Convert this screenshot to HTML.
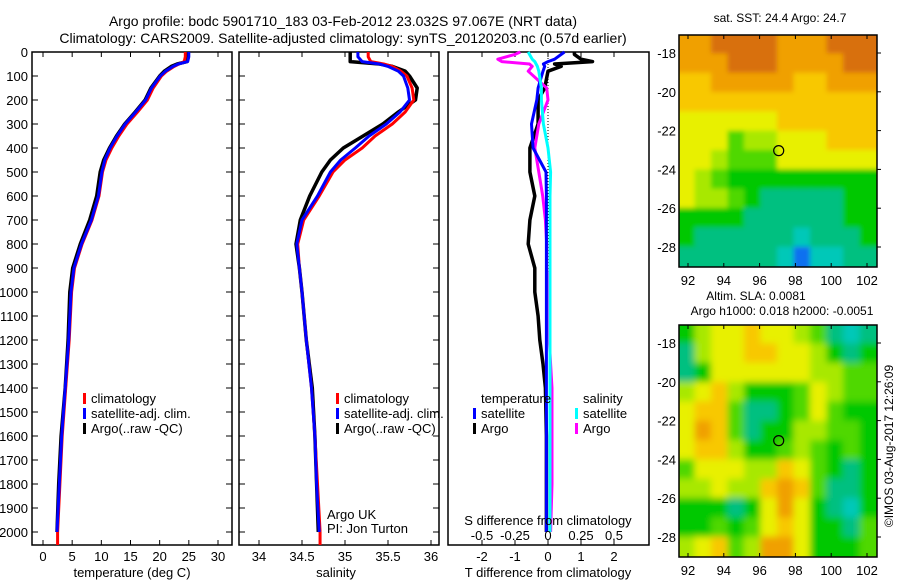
<!DOCTYPE html>
<html><head><meta charset="utf-8"><style>
body{margin:0;background:#fff}
svg{display:block;font-family:"Liberation Sans",sans-serif}
text{fill:#000}
</style></head><body>
<svg id="c" width="900" height="580" viewBox="0 0 900 580" xmlns="http://www.w3.org/2000/svg">
<defs><filter id="blur2" x="-5%" y="-5%" width="110%" height="110%"><feGaussianBlur stdDeviation="3.5"/></filter>
<filter id="blur1" x="-5%" y="-5%" width="110%" height="110%"><feGaussianBlur stdDeviation="2.5"/></filter>
<clipPath id="m1c"><rect x="679" y="35" width="198" height="232"/></clipPath>
<clipPath id="m2c"><rect x="679" y="325" width="198" height="232"/></clipPath></defs>
<text x="343" y="26" font-size="14" text-anchor="middle">Argo profile: bodc 5901710_183 03-Feb-2012 23.032S 97.067E (NRT data)</text>
<text x="343" y="43" font-size="14" text-anchor="middle">Climatology: CARS2009. Satellite-adjusted climatology: synTS_20120203.nc (0.57d earlier)</text>
<g id="g"></g>
</svg>
<script>
// profile data
const depths=[0,20,40,50,60,80,100,150,200,250,300,350,400,450,500,600,700,800,900,1000,1200,1400,1600,1800,2000];
const argoT=[24.9,24.9,24.7,23.0,22,20.8,20.0,18.5,17.5,15.8,14.0,12.6,11.4,10.4,9.8,9.2,8.0,6.4,5.1,4.6,4.3,3.8,3.1,2.7,2.4];
const climT=[24.4,24.4,24.2,23.3,22.5,21.2,20.3,18.9,17.9,16.2,14.4,13.0,11.8,10.8,10.2,9.6,8.4,6.7,5.4,4.9,4.5,3.9,3.3,2.9,2.5];
const satT=[25.0,25.0,24.8,23.2,22.3,21.0,20.1,18.6,17.6,15.9,14.1,12.7,11.5,10.6,10.1,9.5,8.3,6.6,5.3,4.8,4.4,3.8,3.2,2.8,2.4];
const argoS=[35.06,35.06,35.06,35.4,35.55,35.7,35.75,35.84,35.82,35.62,35.44,35.21,34.98,34.83,34.73,34.59,34.48,34.43,34.47,34.5,34.55,34.62,34.65,34.67,34.69];
const climS=[35.27,35.27,35.3,35.45,35.55,35.65,35.72,35.78,35.8,35.7,35.55,35.35,35.2,35.0,34.86,34.7,34.52,34.45,34.47,34.5,34.55,34.61,34.65,34.68,34.71];
const satS=[35.15,35.15,35.2,35.4,35.5,35.62,35.68,35.73,35.75,35.64,35.48,35.28,35.12,34.95,34.83,34.68,34.5,34.44,34.47,34.5,34.55,34.61,34.65,34.67,34.7];
const diffDepths=[0,10,30,40,50,60,80,150,200,300,400,500,600,700,800,900,1000,1100,1200,1300,1400,1600,1800,2000];
const argoTdiff=[0.8,0.8,1.0,1.35,0.2,0.4,0.0,-0.1,-0.3,-0.3,-0.55,-0.55,-0.4,-0.55,-0.6,-0.4,-0.4,-0.3,-0.25,-0.15,-0.08,-0.05,-0.05,-0.05];
const satTdiff=[0.5,0.4,0.2,0.0,-0.14,-0.1,-0.15,-0.3,-0.34,-0.5,-0.45,-0.06,-0.05,-0.05,-0.05,-0.05,-0.05,-0.05,-0.05,-0.05,-0.05,-0.05,-0.05,-0.05];
const argoSdiff=[-0.21,-0.25,-0.38,-0.35,-0.14,-0.12,-0.15,-0.01,0.0,-0.07,-0.1,-0.07,-0.04,-0.02,-0.01,-0.01,0.0,0.0,0.01,0.02,0.03,0.03,0.03,0.02];
const satSdiff=[-0.15,-0.14,-0.12,-0.1,-0.09,-0.08,-0.07,-0.05,-0.05,-0.035,0.0,0.02,0.015,0.015,0.015,0.015,0.015,0.015,0.015,0.015,0.015,0.015,0.015,0.015];
const depthTicks=[0,100,200,300,400,500,600,700,800,900,1000,1100,1200,1300,1400,1500,1600,1700,1800,1900,2000];
const tTicks=[0,5,10,15,20,25,30];
const sTicks=[34,34.5,35,35.5,36];
const tdTicks=[-2,-1,0,1,2];
const sdTicks=[-0.5,-0.25,0,0.25,0.5];
const sdTickLabels=["-0.5","-0.25","0","0.25","0.5"];
const mapLon=[92,94,96,98,100,102];
const mapLat=[-18,-20,-22,-24,-26,-28];
const sstGrid=["889999888999","888999888899","778888877888","777777777777","666666777777","666455666777","665444666666","654333333333","655432222233","333322222233","322222212223","222222101122"];
const slaGrid=["356676654212","256677665323","236666665544","567533346544","677422346433","687423355443","677533454343","466655764323","556557874223","333236863213","334346763324","567458863334"];
const floatLon=97.067, floatLat=-23.032;

const NS="http://www.w3.org/2000/svg";
const G=document.getElementById('g');
function mk(tag,attrs,parent){const e=document.createElementNS(NS,tag);for(const k in attrs)e.setAttribute(k,attrs[k]);(parent||G).appendChild(e);return e;}
function txt(x,y,s,size,anchor,parent){const t=mk('text',{x:x,y:y,'font-size':size||13,'text-anchor':anchor||'middle'},parent);t.textContent=s;return t;}
const yD=d=>52+d*0.24;
const xT=v=>43+v*5.833;
const xS=v=>259+(v-34)*86;
const xDT=v=>548+v*33;
const xDS=v=>548+v*132;
const TOP=52,BOT=545;

function frame(l,r,name){
  const f=mk('rect',{x:l,y:TOP,width:r-l,height:BOT-TOP,fill:'none',stroke:'#000','stroke-width':1.5});
  
  
  depthTicks.forEach(d=>{mk('line',{x1:l,x2:l+6,y1:yD(d),y2:yD(d),stroke:'#000'});mk('line',{x1:r,x2:r-6,y1:yD(d),y2:yD(d),stroke:'#000'});});
}
function line(xs,ds,xf,color,w,name){
  const p=xs.map((v,i)=>xf(v).toFixed(1)+','+yD(ds[i]).toFixed(1)).join(' ');
  const e=mk('polyline',{points:p,fill:'none',stroke:color,'stroke-width':w||3,'stroke-linejoin':'round'});
  
  
}
// panel 1
frame(32,232,'temperature-panel');
const yl=mk('g',{});


depthTicks.forEach(d=>txt(28,yD(d)+5,String(d),13,'end',yl));
tTicks.forEach(v=>{mk('line',{x1:xT(v),x2:xT(v),y1:TOP,y2:TOP+5,stroke:'#000'});mk('line',{x1:xT(v),x2:xT(v),y1:BOT,y2:BOT-5,stroke:'#000'});txt(xT(v),561,String(v));});
txt(132,577,'temperature (deg C)');
line(argoT,depths,xT,'#000',3.5,'temperature-argo-line');
line(climT,depths,xT,'#f00',3,'temperature-climatology-line');
line(satT,depths,xT,'#00f',3,'temperature-satellite-line');
mk('line',{x1:xT(2.5),x2:xT(2.5),y1:yD(2000),y2:BOT,stroke:'#f00','stroke-width':3});
function legend(x,y,items,name){const g=mk('g',{});
 items.forEach((it,i)=>{mk('rect',{x:x,y:y+i*15-10,width:3,height:11,fill:it[1]},g);txt(x+8,y+i*15,it[0],13,'start',g);});}
legend(83,403,[['climatology','#f00'],['satellite-adj. clim.','#00f'],['Argo(..raw -QC)','#000']],'temperature-legend');
// panel 2
frame(239,439,'salinity-panel');
sTicks.forEach(v=>{mk('line',{x1:xS(v),x2:xS(v),y1:TOP,y2:TOP+5,stroke:'#000'});mk('line',{x1:xS(v),x2:xS(v),y1:BOT,y2:BOT-5,stroke:'#000'});txt(xS(v),561,String(v));});
txt(336,577,'salinity');
line(argoS,depths,xS,'#000',3.5,'salinity-argo-line');
line(climS,depths,xS,'#f00',3,'salinity-climatology-line');
line(satS,depths,xS,'#00f',3,'salinity-satellite-line');
mk('line',{x1:xS(34.71),x2:xS(34.71),y1:yD(2000),y2:BOT,stroke:'#f00','stroke-width':3});
legend(336,403,[['climatology','#f00'],['satellite-adj. clim.','#00f'],['Argo(..raw -QC)','#000']],'salinity-legend');
txt(327,519,'Argo UK',13,'start');
txt(327,533,'PI: Jon Turton',13,'start');
// panel 3
const f3=mk('rect',{x:448,y:TOP,width:201,height:BOT-TOP,fill:'none',stroke:'#000','stroke-width':1.5});


tdTicks.forEach(v=>{mk('line',{x1:xDT(v),x2:xDT(v),y1:TOP,y2:TOP+5,stroke:'#000'});mk('line',{x1:xDT(v),x2:xDT(v),y1:BOT,y2:BOT-5,stroke:'#000'});txt(xDT(v),561,String(v));});
txt(548,577,'T difference from climatology');
mk('line',{x1:548,x2:548,y1:TOP,y2:yD(1000),stroke:'#000','stroke-dasharray':'1,2'});
line(argoTdiff,diffDepths,xDT,'#000',3.5,'temp-diff-argo-line');
line(argoSdiff,diffDepths,xDS,'#f0f',3,'sal-diff-argo-line');
line(satTdiff,diffDepths,xDT,'#00f',3,'temp-diff-satellite-line');
line(satSdiff,diffDepths,xDS,'#0ff',3,'sal-diff-satellite-line');
txt(548,525,'S difference from climatology');
sdTicks.forEach((v,i)=>txt(xDS(v),540,sdTickLabels[i]));
txt(481,403,'temperature',13,'start');
txt(583,403,'salinity',13,'start');
legend(473,418,[['satellite','#00f'],['Argo','#000']],'temp-diff-legend');
legend(575,418,[['satellite','#0ff'],['Argo','#f0f']],'sal-diff-legend');
// maps
const cmap=['#1070f0','#00c8b8','#00c080','#00c800','#50d800','#a8e800','#e8f000','#f8c800','#f0a000','#d87010'];
function map(top,grid,blur,name,t1){
  const mx=v=>688+(v-92)*17.9, my=v=>top+18+(-18-v)*19.4;
  const g=mk('g',{'clip-path':'url(#'+(top<100?'m1c':'m2c')+')'});
  
  
  const inner=mk('g',{filter:'url(#'+blur+')'},g);
  const cw=198/12, ch=232/12;
  grid.forEach((row,r)=>row.split('').forEach((c,k)=>{mk('rect',{x:679+k*cw-(k==0?12:1),y:top+r*ch-(r==0?12:1),width:cw+(k==0||k==11?13:2),height:ch+(r==0||r==11?13:2),fill:cmap[+c]},inner);}));
  mk('rect',{x:679,y:top,width:198,height:232,fill:'none',stroke:'#000','stroke-width':1.5});
  mapLon.forEach(v=>{mk('line',{x1:mx(v),x2:mx(v),y1:top,y2:top+4,stroke:'#000'});mk('line',{x1:mx(v),x2:mx(v),y1:top+232,y2:top+228,stroke:'#000'});txt(mx(v),top+250,String(v));});
  mapLat.forEach(v=>{mk('line',{x1:877,x2:881,y1:my(v),y2:my(v),stroke:'#000'});txt(676,my(v)+5,String(v),13,'end');});
  mk('circle',{cx:mx(floatLon),cy:my(floatLat),r:5,fill:'none',stroke:'#000','stroke-width':1.2});
  t1 && txt(780,top-13,t1,12);
}
map(35,sstGrid,'blur1','sst-map','sat. SST: 24.4 Argo: 24.7');
map(325,slaGrid,'blur2','sla-map',null);
txt(756,300,'Altim. SLA: 0.0081',12);
txt(782,315,'Argo h1000: 0.018 h2000: -0.0051',12);
const cr=txt(0,0,'©IMOS 03-Aug-2017 12:26:09',12,'middle');
cr.setAttribute('transform','translate(893,446) rotate(-90)');


</script>
</body></html>
